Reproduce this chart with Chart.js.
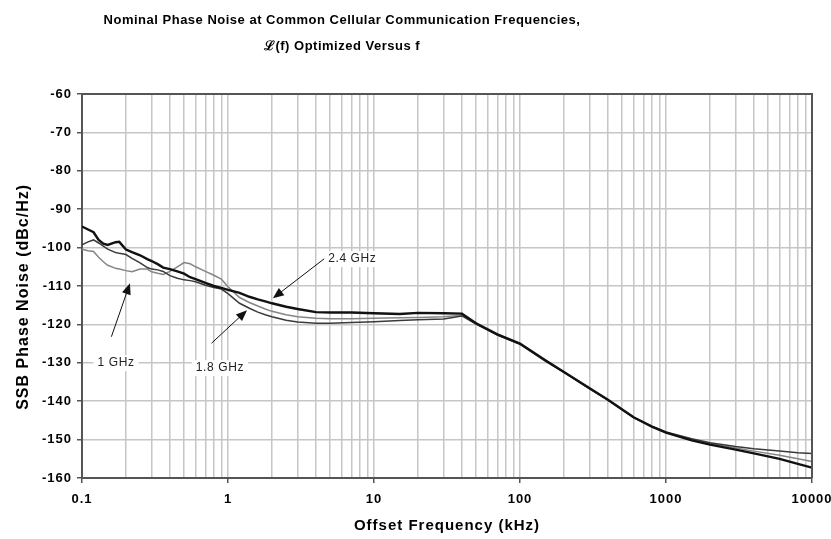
<!DOCTYPE html>
<html>
<head>
<meta charset="utf-8">
<script src="https://cdn.jsdelivr.net/npm/chart.js@4.4.0/dist/chart.umd.min.js"></script>
<style>
  body { margin: 0; background: #fff; }
  canvas { display: block; }
</style>
</head>
<body>
<canvas id="myChart" width="831" height="539"></canvas>
<script>
// offset frequency (kHz)
const freqs = [0.1, 0.11, 0.12, 0.13, 0.14, 0.15, 0.17, 0.18, 0.2, 0.22,
    0.25, 0.28, 0.3, 0.33, 0.36, 0.4, 0.45, 0.5, 0.55, 0.6,
    0.7, 0.8, 0.9, 1, 1.2, 1.4, 1.6, 1.8, 2, 2.5,
    3, 4, 5, 7, 10, 15, 20, 30, 40, 50,
    70, 100, 150, 200, 300, 400, 600, 800, 1000, 1500,
    2000, 3000, 4000, 6000, 8000, 10000]

// SSB phase noise (dBc/Hz)
const ghz24 = [-94.5, -95.3, -96, -98, -99, -99.3, -98.6, -98.5, -100.5, -101.2,
    -102, -103, -103.5, -104.3, -105.2, -105.6, -106.2, -106.8, -107.7, -108.2,
    -109.2, -110, -110.5, -111, -111.8, -112.8, -113.5, -114, -114.5, -115.4,
    -116, -116.8, -116.9, -116.9, -117.1, -117.3, -117, -117.1, -117.2, -119.7,
    -122.6, -125, -129.4, -132.4, -136.6, -139.6, -144.2, -146.6, -148.2, -150.2,
    -151.3, -152.6, -153.6, -155, -156.3, -157.3]

const ghz18 = [-99.3, -98.5, -98, -98.8, -99.6, -100.4, -101.3, -101.5, -101.8, -102.8,
    -104, -105.2, -105.6, -105.8, -106.2, -107.3, -108, -108.4, -108.6, -108.9,
    -109.8, -110.4, -110.8, -112, -114.5, -115.8, -116.8, -117.5, -118, -118.9,
    -119.4, -119.7, -119.7, -119.5, -119.3, -119, -118.8, -118.6, -117.8, -119.9,
    -122.8, -125.2, -129.6, -132.5, -136.8, -139.7, -144.3, -146.5, -148, -149.8,
    -150.8, -151.8, -152.4, -153, -153.4, -153.6]

const ghz1 = [-100.4, -100.8, -101, -102.5, -103.7, -104.6, -105.4, -105.6, -106, -106.3,
    -105.6, -105.6, -106.3, -106.7, -107, -106.2, -105, -103.9, -104.2, -105,
    -106.2, -107.2, -108.2, -110.2, -113, -114.3, -115.2, -116, -116.6, -117.5,
    -118, -118.4, -118.5, -118.5, -118.4, -118.3, -118.2, -118, -117.6, -119.8,
    -122.7, -125.1, -129.5, -132.4, -136.7, -139.6, -144.2, -146.6, -148.1, -150,
    -151, -152.2, -153, -154.1, -155, -155.7]

const decades = [0.1, 1, 10, 100, 1000, 10000]
const yTicks = [-60, -70, -80, -90, -100, -110, -120, -130, -140, -150, -160]

// annotation labels with arrows (data units: kHz, dBc/Hz)
const annText = ['2.4 GHz', '1.8 GHz', '1 GHz']
const annTextAt = [[7.1, -103], [0.88, -131.4], [0.171, -130.1]]
const annFrom = [[4.6, -102.8], [0.772, -124.9], [0.159, -123.2]]
const annTo = [[2.03, -113.2], [1.35, -116.3], [0.213, -109.3]]

function toPoints(values) {
    return values.map((v, i) => ({ x: freqs[i], y: v }))
}

// minor grid positions 0.1..10000
const xTickValues = []
decades.forEach((d, i) => {
    xTickValues.push(d)
    if (i < decades.length - 1) {
        for (let m = 2; m <= 9; m++) xTickValues.push(Math.round(d * m * 1000) / 1000)
    }
})

const spacing = {
    id: 'spacing',
    beforeLayout(chart) { chart.ctx.letterSpacing = '1px' },
    beforeDraw(chart) { chart.ctx.letterSpacing = '1px' }
}

const extras = {
    id: 'extras',
    afterDatasetsDraw(chart) {
        const ctx = chart.ctx
        const xs = chart.scales.x
        const ys = chart.scales.y
        const area = chart.chartArea

        // frame top + right
        ctx.save()
        ctx.strokeStyle = '#555'
        ctx.lineWidth = 2
        ctx.beginPath()
        ctx.moveTo(area.left, area.top)
        ctx.lineTo(area.right, area.top)
        ctx.lineTo(area.right, area.bottom)
        ctx.stroke()

        // arrows
        ctx.strokeStyle = '#111'
        ctx.fillStyle = '#111'
        ctx.lineWidth = 1
        for (let i = 0; i < annText.length; i++) {
            const x1 = xs.getPixelForValue(annFrom[i][0])
            const y1 = ys.getPixelForValue(annFrom[i][1])
            const x2 = xs.getPixelForValue(annTo[i][0])
            const y2 = ys.getPixelForValue(annTo[i][1])
            const ang = Math.atan2(y2 - y1, x2 - x1)
            ctx.beginPath()
            ctx.moveTo(x1, y1)
            ctx.lineTo(x2 - 6 * Math.cos(ang), y2 - 6 * Math.sin(ang))
            ctx.stroke()
            ctx.beginPath()
            ctx.moveTo(x2, y2)
            ctx.lineTo(x2 - 11 * Math.cos(ang) + 4.5 * Math.sin(ang), y2 - 11 * Math.sin(ang) - 4.5 * Math.cos(ang))
            ctx.lineTo(x2 - 11 * Math.cos(ang) - 4.5 * Math.sin(ang), y2 - 11 * Math.sin(ang) + 4.5 * Math.cos(ang))
            ctx.closePath()
            ctx.fill()
        }

        // labels on white boxes
        ctx.font = '12px "Liberation Sans", Arial, sans-serif'
        ctx.letterSpacing = '0.6px'
        ctx.textAlign = 'center'
        ctx.textBaseline = 'middle'
        for (let i = 0; i < annText.length; i++) {
            const x = xs.getPixelForValue(annTextAt[i][0])
            const y = ys.getPixelForValue(annTextAt[i][1])
            const w = ctx.measureText(annText[i]).width
            ctx.fillStyle = '#fff'
            ctx.fillRect(x - w / 2 - 4, y - 8, w + 8, 16)
            ctx.fillStyle = '#222'
            ctx.fillText(annText[i], x, y)
        }

        // chart title
        ctx.fillStyle = '#000'
        ctx.letterSpacing = '0.5px'
        ctx.font = 'bold 13px "Liberation Sans", Arial, sans-serif'
        ctx.fillText('Nominal Phase Noise at Common Cellular Communication Frequencies,', 342, 20)
        ctx.fillText('\u2112(f) Optimized Versus f', 342, 46)
        ctx.restore()
    }
}

new Chart('myChart', {
    type: 'line',
    data: {
        datasets: [
            { label: '2.4 GHz', data: toPoints(ghz24), borderColor: '#111', borderWidth: 2.4 },
            { label: '1.8 GHz', data: toPoints(ghz18), borderColor: '#3a3a3a', borderWidth: 1.5 },
            { label: '1 GHz', data: toPoints(ghz1), borderColor: '#858585', borderWidth: 1.5 }
        ]
    },
    options: {
        responsive: false,
        animation: false,
        devicePixelRatio: 1,
        elements: { point: { radius: 0 }, line: { tension: 0 } },
        layout: { padding: { top: 94, right: 0, bottom: 4, left: 4 } },
        plugins: {
            legend: { display: false },
            tooltip: { enabled: false }
        },
        scales: {
            x: {
                type: 'logarithmic',
                min: 0.1,
                max: 10000,
                afterBuildTicks(scale) {
                    scale.ticks = xTickValues.map(v => ({ value: v, major: decades.includes(v) }))
                },
                afterFit(scale) {
                    scale.height = 57
                    scale.paddingLeft = 0
                    scale.paddingRight = 19
                },
                ticks: {
                    autoSkip: false,
                    maxRotation: 0,
                    padding: 9,
                    color: '#000',
                    font: { family: '"Liberation Sans", Arial, sans-serif', size: 13, weight: 'bold' },
                    callback: (v) => decades.includes(v) ? String(v) : ''
                },
                grid: {
                    color: '#c6c6c6',
                    lineWidth: 1.5,
                    tickLength: 5,
                    tickColor: (c) => (c.tick && decades.includes(c.tick.value)) ? '#555' : 'rgba(0,0,0,0)'
                },
                border: { color: '#555', width: 2 },
                title: {
                    display: true,
                    text: 'Offset Frequency (kHz)',
                    color: '#000',
                    padding: { top: 5, bottom: 0 },
                    font: { family: '"Liberation Sans", Arial, sans-serif', size: 15, weight: 'bold' }
                }
            },
            y: {
                min: -160,
                max: -60,
                afterBuildTicks(scale) {
                    scale.ticks = yTicks.map(v => ({ value: v }))
                },
                afterFit(scale) { scale.width = 78 },
                ticks: {
                    padding: 5,
                    color: '#000',
                    font: { family: '"Liberation Sans", Arial, sans-serif', size: 13, weight: 'bold' }
                },
                grid: { color: '#c6c6c6', lineWidth: 1.5, tickLength: 5, tickColor: '#555' },
                border: { color: '#555', width: 2 },
                title: {
                    display: true,
                    text: 'SSB Phase Noise (dBc/Hz)    ',
                    color: '#000',
                    padding: { top: 10, bottom: 0 },
                    font: { family: '"Liberation Sans", Arial, sans-serif', size: 16, weight: 'bold' }
                }
            }
        }
    },
    plugins: [spacing, extras]
});
</script>
</body>
</html>
